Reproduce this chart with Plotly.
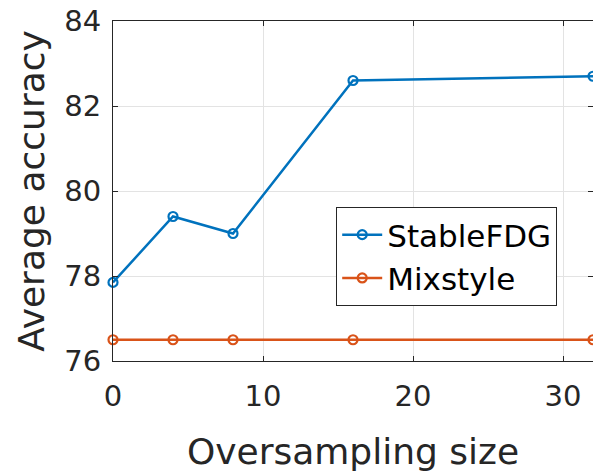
import plotly.graph_objects as go

x_vals = [0, 4, 8, 16, 32]
stablefdg = [77.85, 79.4, 79.0, 82.6, 82.7]
mixstyle = [76.5, 76.5, 76.5, 76.5, 76.5]
x_ticks = [0, 10, 20, 30]
y_ticks = [76, 78, 80, 82, 84]

FONT = "DejaVu Sans"

fig = go.Figure()
fig.add_trace(go.Scatter(x=x_vals, y=stablefdg, name="StableFDG", mode="lines+markers",
                         line=dict(color="#0072BD", width=2.5),
                         marker=dict(symbol="circle-open", size=9, line=dict(width=2.2, color="#0072BD")),
                         cliponaxis=False))
fig.add_trace(go.Scatter(x=x_vals, y=mixstyle, name="Mixstyle", mode="lines+markers",
                         line=dict(color="#D95319", width=2.5),
                         marker=dict(symbol="circle-open", size=9, line=dict(width=2.2, color="#D95319")),
                         cliponaxis=False))

axis_common = dict(showline=True, linecolor="#262626", linewidth=1, mirror="ticks",
                   ticks="inside", ticklen=5, tickcolor="#262626",
                   showgrid=True, gridcolor="#E3E3E3", gridwidth=1, zeroline=False,
                   tickfont=dict(family=FONT, size=29, color="#262626"))

fig.update_layout(
    width=593, height=475,
    margin=dict(l=113, r=0, t=21, b=114),
    paper_bgcolor="white", plot_bgcolor="white",
    font=dict(family=FONT, color="#262626"),
    xaxis=dict(range=[0, 32], tickvals=x_ticks, ticklabelstandoff=9,
               title=dict(text="Oversampling size", font=dict(size=36, color="#262626"), standoff=27),
               **axis_common),
    yaxis=dict(range=[76, 84], tickvals=y_ticks, ticklabelstandoff=5,
               title=dict(text="Average accuracy", font=dict(size=36, color="#262626"), standoff=8),
               **axis_common),
    legend=dict(x=0.465, y=0.453, xanchor="left", yanchor="top",
                bgcolor="white", bordercolor="#262626", borderwidth=1,
                font=dict(size=31, color="#000000"), tracegroupgap=0, itemwidth=40),
    showlegend=True,
)

fig.write_html("out.html")
